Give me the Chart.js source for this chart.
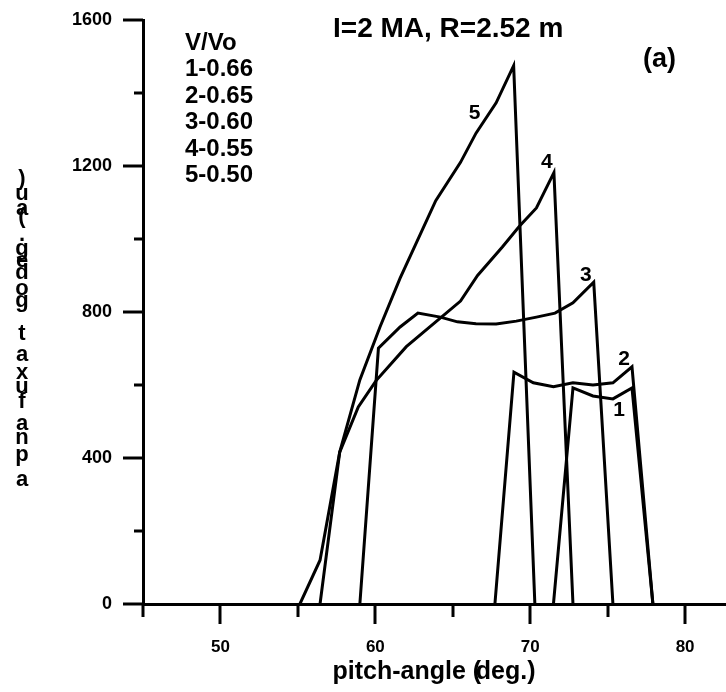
<!DOCTYPE html>
<html>
<head>
<meta charset="utf-8">
<script src="https://cdn.jsdelivr.net/npm/chart.js@4.4.0/dist/chart.umd.min.js"></script>
<style>
html, body { margin: 0; padding: 0; background: #fff; }
#fluxChart { display: block; }
</style>
</head>
<body>
<canvas id="fluxChart" width="726" height="692"></canvas>
<script>
// pitch-angle (deg.) vs flux for the five V/Vo cases
const curve1Angle = [71.5, 72.76, 74.05, 75.34, 76.57, 77.92];
const curve1Flux  = [0, 592, 570, 562, 592, 0];

const curve2Angle = [67.72, 68.95, 70.2, 71.5, 72.76, 74.05, 75.34, 76.57, 77.92];
const curve2Flux  = [0, 635, 606, 595, 606, 600, 606, 650, 0];

const curve3Angle = [59.0, 60.2, 61.6, 62.75, 64.2, 65.3, 66.5, 67.8, 69.1, 70.4, 71.6, 72.76, 74.1, 75.34];
const curve3Flux  = [0, 701, 759, 797, 786, 773, 768, 767, 775, 786, 797, 825, 882, 0];

const curve4Angle = [56.43, 57.7, 58.9, 60.05, 62.0, 65.5, 66.6, 68.2, 69.3, 70.4, 71.53, 72.76];
const curve4Flux  = [0, 416, 540, 612, 705, 830, 900, 978, 1035, 1085, 1182, 0];

const curve5Angle = [55.13, 56.43, 57.7, 59.0, 60.3, 61.6, 63.9, 65.5, 66.5, 67.8, 68.93, 70.3];
const curve5Flux  = [0, 120, 416, 614, 759, 893, 1105, 1210, 1290, 1373, 1475, 0];

const curveNames = ['1', '2', '3', '4', '5'];
const legendLines = ['V/Vo', '1-0.66', '2-0.65', '3-0.60', '4-0.55', '5-0.50'];
const plotTitle = 'I=2 MA, R=2.52 m';
const panelTag = '(a)';

const xMajorTicks = [50, 60, 70, 80];
const yMajorTicks = [0, 400, 800, 1200, 1600];

const FONT = '"Liberation Sans", Arial, Helvetica, sans-serif';

function toPoints(xs, ys) {
    return xs.map((x, i) => ({ x: x, y: ys[i] }));
}

const curves = [
    toPoints(curve1Angle, curve1Flux),
    toPoints(curve2Angle, curve2Flux),
    toPoints(curve3Angle, curve3Flux),
    toPoints(curve4Angle, curve4Flux),
    toPoints(curve5Angle, curve5Flux)
];

// major / minor tick marks drawn outside the plot frame
const axisTicks = {
    id: 'axisTicks',
    afterDraw(chart) {
        const ctx = chart.ctx;
        const xs = chart.scales.x;
        const ys = chart.scales.y;
        ctx.save();
        ctx.strokeStyle = '#000';
        ctx.lineWidth = 3;
        ctx.lineCap = 'butt';
        xs.ticks.forEach(t => {
            const px = Math.round(xs.getPixelForValue(t.value));
            const len = xMajorTicks.includes(t.value) ? 20 : 13;
            ctx.beginPath();
            ctx.moveTo(px, ys.bottom);
            ctx.lineTo(px, ys.bottom + len);
            ctx.stroke();
        });
        ys.ticks.forEach(t => {
            const py = Math.round(ys.getPixelForValue(t.value));
            const len = yMajorTicks.includes(t.value) ? 20 : 9;
            ctx.beginPath();
            ctx.moveTo(xs.left, py);
            ctx.lineTo(xs.left - len, py);
            ctx.stroke();
        });
        ctx.restore();
    }
};

// title, legend block, curve numbers and axis titles
const annotations = {
    id: 'annotations',
    afterDraw(chart) {
        const ctx = chart.ctx;
        ctx.save();
        ctx.fillStyle = '#000';

        ctx.font = 'bold 28px ' + FONT;
        ctx.textAlign = 'left';
        ctx.textBaseline = 'middle';
        ctx.fillText(plotTitle, 333, 29);
        ctx.font = 'bold 27px ' + FONT;
        ctx.fillText(panelTag, 643, 60);

        ctx.font = 'bold 24px ' + FONT;
        legendLines.forEach((line, i) => {
            ctx.fillText(line, 185, 43 + i * 26.5);
        });

        // number next to the last raised point of each curve
        const offsets = [[-13, 22], [-8, -8], [-8, -7], [-7, -10], [-39, 48]];
        ctx.font = 'bold 21px ' + FONT;
        ctx.textAlign = 'center';
        chart.data.datasets.forEach((ds, i) => {
            const pts = chart.getDatasetMeta(i).data;
            const peak = pts[pts.length - 2];
            ctx.fillText(curveNames[i], peak.x + offsets[i][0], peak.y + offsets[i][1]);
        });

        // x axis title, the bracket sits under the d
        ctx.font = 'bold 25px ' + FONT;
        ctx.textBaseline = 'alphabetic';
        ctx.textAlign = 'left';
        const head = 'pitch-angle ';
        const tail = 'deg.)';
        const wHead = ctx.measureText(head).width;
        const wTail = ctx.measureText(tail).width;
        const total = wHead + 3 + wTail;
        const x0 = 434 - total / 2;
        ctx.fillText(head, x0, 679);
        ctx.fillText('(', x0 + wHead, 679);
        ctx.fillText(tail, x0 + wHead + 3, 679);

        // y axis title, letters stacked one under another
        const stack = [
            [')', 179], ['u', 194], ['a', 209], ['(', 217], ['.', 235],
            ['g', 249], ['e', 261], ['d', 273], ['o', 289], ['g', 301],
            ['t', 334], ['a', 355], ['x', 373], ['u', 387], ['f', 402],
            ['a', 424], ['n', 438], ['p', 455], ['a', 480]
        ];
        ctx.font = 'bold 22px ' + FONT;
        ctx.textAlign = 'center';
        ctx.textBaseline = 'middle';
        stack.forEach(([ch, y]) => ctx.fillText(ch, 22, y));

        ctx.restore();
    }
};

new Chart(document.getElementById('fluxChart'), {
    type: 'scatter',
    data: {
        datasets: curves.map((pts, i) => ({
            label: curveNames[i],
            data: pts,
            showLine: true,
            borderColor: '#000',
            backgroundColor: '#000',
            borderWidth: 3,
            pointRadius: 0,
            tension: 0
        }))
    },
    options: {
        responsive: false,
        animation: false,
        devicePixelRatio: 1,
        layout: { padding: { top: 20, right: 0, left: 0, bottom: 0 } },
        plugins: {
            legend: { display: false },
            tooltip: { enabled: false }
        },
        scales: {
            x: {
                type: 'linear',
                min: 45,
                max: 82.64,
                afterFit(scale) {
                    scale.height = 88;
                    scale.paddingLeft = 0;
                    scale.paddingRight = 0;
                },
                border: { display: true, color: '#000', width: 3 },
                grid: { drawOnChartArea: false, drawTicks: false },
                ticks: {
                    stepSize: 5,
                    includeBounds: false,
                    autoSkip: false,
                    maxRotation: 0,
                    padding: 33,
                    color: '#000',
                    font: { family: FONT, size: 17, weight: 'bold' },
                    callback: v => xMajorTicks.includes(v) ? String(v) : ''
                }
            },
            y: {
                type: 'linear',
                min: 0,
                max: 1600,
                afterFit(scale) {
                    scale.width = 143;
                    scale.paddingTop = 0;
                    scale.paddingBottom = 0;
                },
                border: { display: true, color: '#000', width: 3 },
                grid: { drawOnChartArea: false, drawTicks: false },
                ticks: {
                    stepSize: 200,
                    autoSkip: false,
                    padding: 31,
                    color: '#000',
                    font: { family: FONT, size: 18, weight: 'bold' },
                    callback: v => yMajorTicks.includes(v) ? String(v) : ''
                }
            }
        }
    },
    plugins: [axisTicks, annotations]
});
</script>
</body>
</html>
